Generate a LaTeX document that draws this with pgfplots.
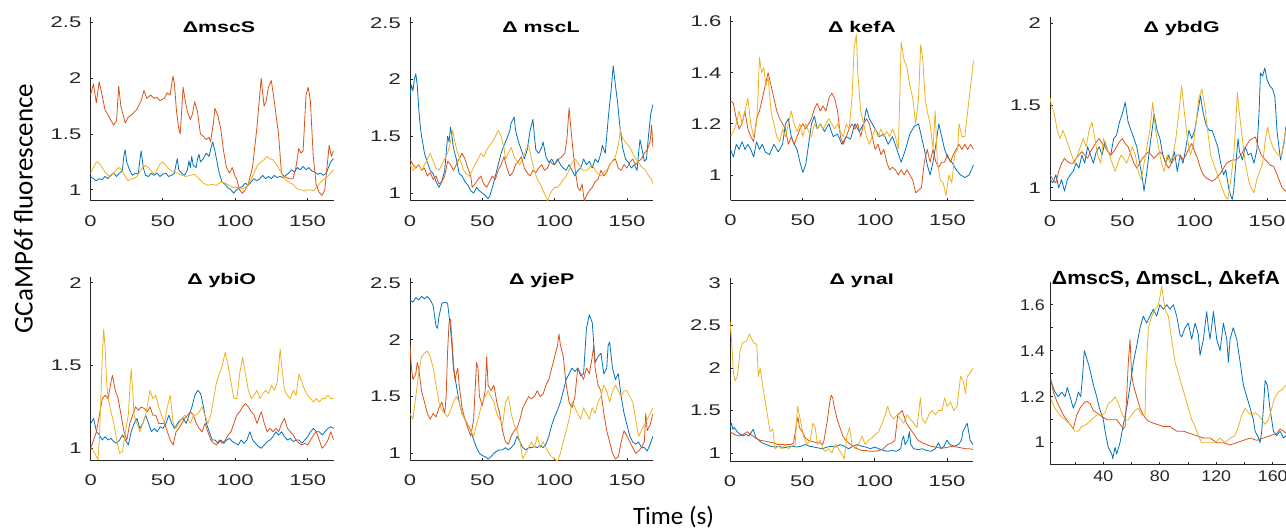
\documentclass[border=0pt]{standalone}
\usepackage{pgfplots}
\pgfplotsset{compat=1.18}
\usepackage{fontspec}
\setmainfont{Liberation Sans}
\newfontfamily\tickfont[FakeStretch=1.42]{Liberation Sans}
\newfontfamily\tickfontB[FakeStretch=1.15]{Liberation Sans}
\newfontfamily\titlefont[FakeStretch=1.38]{Liberation Sans}
\newfontfamily\titlefontB[FakeStretch=1.12]{Liberation Sans}
\newfontfamily\labelfont{Carlito}

\definecolor{mblue}{rgb}{0,0.447,0.741}
\definecolor{morange}{rgb}{0.850,0.325,0.098}
\definecolor{myellow}{rgb}{0.929,0.694,0.125}
\definecolor{axcol}{rgb}{0.15,0.15,0.15}

\pgfplotsset{
  panel/.style={
    scale only axis, width=243pt, height=184pt,
    axis lines=left, axis line style={-, draw=axcol, line width=1pt},
    tick align=inside, major tick length=2.7pt, minor tick length=2.7pt,
    tick style={draw=axcol, line width=0.8pt},
    xmin=0, xmax=168, xtick={0,50,100,150},
    /pgf/number format/assume math mode=true,
    ticklabel style={font=\tickfont\fontsize{15.5}{16}\selectfont, text=axcol, inner sep=0pt},
    xticklabel style={anchor=north, yshift=-14pt},
    yticklabel style={anchor=east, xshift=-9pt},
    every axis plot/.append style={line width=0.8pt, line join=round, mark=none},
  },
  tb/.style={draw=mblue},
  tr/.style={draw=morange},
  ty/.style={draw=myellow},
}

\begin{document}
\begin{tikzpicture}[x=1pt,y=1pt]
\useasboundingbox (0,0) rectangle (1286,531);
\clip (0,0) rectangle (1286,531);

% ---------- mscS ----------
\begin{axis}[panel, at={(90.5pt,330pt)}, anchor=south west,
  ymin=0.9, ymax=2.55, ytick={1,1.5,2,2.5}]
\addplot[tb] coordinates {(0,1.12)(2,1.1)(4,1.08)(6,1.1)(8,1.09)(10,1.12)(12,1.1)(14,1.13)(16,1.15)(18,1.12)(20,1.15)(22,1.17)(23,1.3)(24,1.36)(25,1.25)(27,1.18)(29,1.13)(31,1.15)(33,1.14)(34,1.25)(35,1.35)(36.5,1.2)(38,1.13)(40,1.12)(42,1.15)(44,1.13)(46,1.15)(48,1.12)(50,1.14)(52,1.15)(54,1.12)(56,1.13)(58,1.15)(59,1.22)(60,1.28)(61,1.18)(63,1.15)(65,1.13)(67,1.18)(68,1.26)(69,1.2)(70,1.3)(71,1.22)(73,1.2)(74,1.28)(75,1.32)(76,1.25)(78,1.28)(80,1.33)(82,1.3)(83,1.36)(84.5,1.43)(86,1.35)(87.5,1.25)(89,1.15)(91,1.07)(93,1.05)(95,1.02)(97,1.0)(99,0.97)(101,1.0)(103,1.02)(105,1.03)(107,1.06)(109,1.04)(111,1.07)(113,1.1)(115,1.08)(117,1.1)(119,1.13)(121,1.1)(123,1.12)(125,1.1)(127,1.13)(129,1.11)(131,1.12)(133,1.11)(135,1.13)(137,1.15)(139,1.18)(141,1.16)(143,1.2)(145,1.18)(147,1.21)(149,1.18)(151,1.2)(153,1.17)(155,1.16)(157,1.14)(159,1.15)(161,1.13)(163,1.15)(164.5,1.2)(166,1.25)(168,1.28)};
\addplot[tr] coordinates {(0,1.85)(2,1.95)(4,1.78)(6,1.97)(8,1.85)(10,1.72)(13,1.65)(16,1.58)(18,1.62)(19.5,1.93)(21,1.75)(24,1.6)(26,1.65)(29,1.68)(32,1.72)(35,1.8)(37,1.89)(39,1.82)(41.5,1.85)(44,1.82)(46,1.83)(48,1.8)(51,1.82)(53,1.87)(55,1.85)(57,2.02)(58,1.95)(59.5,1.7)(61,1.55)(62,1.5)(63,1.7)(64,1.92)(65.5,1.8)(67,1.7)(69,1.63)(70.5,1.68)(72,1.79)(74,1.7)(76,1.5)(78,1.48)(80,1.45)(82,1.47)(83,1.43)(85,1.6)(86,1.73)(88,1.67)(90,1.55)(92,1.35)(94,1.2)(96,1.15)(98,1.2)(100,1.12)(101,1.1)(103,1.0)(105,0.97)(107,1.0)(109,1.05)(112,1.2)(115,1.55)(118,2.0)(120,1.75)(121.5,1.8)(123,1.92)(125,1.98)(127,1.8)(128.5,1.65)(130,1.5)(132,1.15)(134,1.12)(137,1.1)(140,1.1)(142,1.2)(144,1.37)(145.5,1.33)(147,1.35)(148,1.6)(149,1.85)(150.5,1.92)(152,1.8)(153,1.55)(154,1.3)(156,1.05)(158,0.98)(160,0.95)(162,1.0)(163.5,1.2)(165,1.4)(166.5,1.3)(168,1.35)};
\addplot[ty] coordinates {(0,1.15)(2,1.2)(4,1.25)(6,1.24)(8,1.2)(10,1.16)(12,1.13)(14,1.12)(16,1.15)(18,1.18)(20,1.2)(22,1.17)(24,1.12)(26,1.08)(28,1.1)(30,1.1)(32,1.12)(34,1.16)(36,1.2)(38,1.22)(40,1.2)(42,1.17)(44,1.14)(46,1.18)(48,1.23)(50,1.25)(52,1.22)(54,1.19)(56,1.17)(58,1.16)(60,1.15)(63,1.13)(66,1.12)(69,1.13)(72,1.14)(75,1.1)(78,1.06)(81,1.04)(84,1.05)(87,1.04)(90,1.07)(93,1.06)(96,1.04)(99,1.02)(102,1.02)(105,1.01)(108,1.03)(110,1.07)(112,1.12)(114,1.18)(116,1.23)(118,1.25)(120,1.27)(122,1.3)(124,1.28)(126,1.27)(128,1.24)(130,1.2)(132,1.15)(134,1.1)(136,1.08)(138,1.06)(140,1.05)(142,1.02)(144,1.0)(146,1.0)(148,0.99)(150,1.0)(152,1.0)(154,0.99)(156,1.02)(158,1.05)(160,1.08)(162,1.1)(164,1.12)(166,1.15)(168,1.18)};
\end{axis}

% ---------- mscL ----------
\begin{axis}[panel, at={(410pt,330pt)}, anchor=south west,
  ymin=0.93, ymax=2.55, ytick={1,1.5,2,2.5}]
\addplot[tb] coordinates {(0,1.85)(1,1.95)(2,1.9)(3,2.0)(4,2.05)(5,1.95)(6,1.75)(7,1.6)(8,1.5)(10,1.35)(12,1.27)(14,1.2)(16,1.17)(18,1.1)(20,1.05)(22,1.1)(24,1.2)(25,1.35)(26,1.5)(27,1.45)(28,1.58)(29,1.5)(30,1.4)(32,1.3)(34,1.17)(36,1.15)(38,1.1)(40,1.07)(42,1.02)(44,1.0)(46,1.05)(48,1.02)(50,1.0)(52,0.98)(54,0.95)(55,0.97)(57,1.05)(59,1.15)(61,1.25)(63,1.35)(65,1.42)(67,1.48)(69,1.55)(70,1.62)(72,1.67)(73,1.55)(75,1.45)(77,1.38)(79,1.3)(81,1.38)(83,1.55)(85,1.65)(86,1.5)(87,1.38)(89,1.35)(91,1.4)(92,1.45)(94,1.32)(96,1.27)(98,1.3)(100,1.25)(102,1.3)(104,1.25)(106,1.22)(108,1.2)(110,1.25)(112,1.2)(114,1.15)(116,1.2)(118,1.22)(120,1.3)(122,1.25)(124,1.28)(126,1.22)(128,1.3)(130,1.27)(132,1.35)(133,1.42)(135,1.35)(136,1.5)(137,1.65)(139,1.9)(140.5,2.12)(142,1.95)(143.5,1.8)(145,1.6)(147,1.4)(149,1.3)(151,1.27)(153,1.22)(155,1.25)(157,1.2)(158,1.35)(159,1.47)(160.5,1.38)(162,1.28)(163.5,1.3)(165,1.52)(166.5,1.7)(168,1.78)};
\addplot[tr] coordinates {(0,1.3)(2,1.25)(4,1.22)(6,1.25)(8,1.2)(10,1.22)(12,1.15)(14,1.18)(16,1.12)(18,1.15)(20,1.08)(22,1.1)(24,1.15)(26,1.28)(28,1.25)(30,1.2)(32,1.25)(34,1.3)(36,1.35)(38,1.3)(40,1.22)(42,1.15)(43,1.05)(45,1.08)(47,1.12)(49,1.15)(51,1.08)(53,1.05)(55,1.1)(57,1.15)(59,1.12)(61,1.2)(63,1.25)(65,1.32)(67,1.22)(69,1.15)(71,1.18)(73,1.25)(75,1.28)(77,1.32)(79,1.22)(81,1.18)(83,1.15)(85,1.2)(87,1.18)(89,1.22)(91,1.25)(93,1.2)(95,1.22)(97,1.28)(99,1.25)(101,1.27)(103,1.3)(105,1.32)(107,1.35)(108.5,1.48)(110,1.75)(111,1.6)(112.5,1.4)(114,1.22)(116,1.05)(117.5,1.02)(119,1.08)(120.5,0.93)(122,0.98)(124,1.02)(126,1.05)(128,1.1)(130,1.12)(132,1.2)(134,1.15)(136,1.18)(138,1.25)(140,1.28)(142,1.3)(144,1.22)(146,1.2)(148,1.25)(150,1.22)(152,1.27)(154,1.3)(156,1.25)(158,1.28)(160,1.3)(162,1.35)(164,1.38)(166,1.45)(167,1.6)(168,1.4)};
\addplot[ty] coordinates {(0,1.25)(2,1.2)(4,1.23)(6,1.25)(8,1.2)(10,1.25)(12,1.3)(14,1.35)(16,1.28)(18,1.22)(20,1.2)(22,1.25)(24,1.3)(26,1.35)(28,1.45)(29.5,1.55)(31,1.45)(33,1.35)(35,1.28)(37,1.2)(39,1.17)(41,1.15)(43,1.2)(45,1.25)(47,1.3)(49,1.35)(51,1.32)(53,1.38)(55,1.42)(57,1.45)(59,1.5)(61,1.55)(63,1.5)(65,1.4)(66,1.3)(68,1.35)(70,1.4)(72,1.32)(74,1.28)(76,1.25)(78,1.3)(80,1.38)(82,1.42)(84,1.3)(86,1.2)(88,1.12)(90,1.08)(92,1.02)(94,0.97)(95,0.93)(96.5,0.98)(98,1.02)(100,1.05)(102,1.05)(104,1.08)(106,1.12)(108,1.15)(110,1.2)(112,1.27)(114,1.3)(116,1.27)(118,1.22)(120,1.2)(122,1.2)(124,1.22)(126,1.25)(128,1.2)(130,1.17)(132,1.15)(134,1.18)(136,1.2)(138,1.25)(140,1.28)(142,1.32)(144,1.42)(145.5,1.56)(147,1.48)(149,1.45)(151,1.42)(153,1.38)(155,1.32)(157,1.28)(159,1.25)(161,1.22)(163,1.2)(165,1.15)(167,1.12)(168,1.08)};
\end{axis}

% ---------- kefA ----------
\begin{axis}[panel, at={(730.5pt,330.5pt)}, anchor=south west,
  ymin=0.9, ymax=1.62, ytick={1,1.2,1.4,1.6}]
\addplot[tb] coordinates {(0,1.1)(2,1.07)(4,1.12)(6,1.1)(8,1.13)(10,1.1)(12,1.12)(14,1.1)(16,1.07)(18,1.13)(20,1.1)(22,1.12)(24,1.09)(27,1.08)(30,1.12)(33,1.09)(36,1.12)(38,1.2)(40,1.22)(42,1.15)(44,1.12)(46,1.1)(48,1.05)(50,1.01)(52,1.04)(54,1.12)(56,1.2)(58,1.23)(60,1.18)(62,1.2)(65,1.17)(68,1.2)(71,1.15)(74,1.16)(77,1.12)(80,1.15)(83,1.14)(86,1.2)(89,1.17)(92,1.2)(94,1.26)(96,1.22)(98,1.2)(100,1.18)(103,1.15)(106,1.16)(109,1.12)(112,1.15)(115,1.1)(118,1.05)(121,1.1)(124,1.16)(127,1.19)(130,1.2)(132,1.15)(134,1.1)(136,1.04)(138,1.0)(140,1.05)(142,1.12)(144,1.2)(146,1.15)(148,1.1)(150,1.07)(153,1.05)(156,1.02)(159,1.0)(162,0.99)(165,1.0)(168,1.04)};
\addplot[tr] coordinates {(0,1.29)(2,1.28)(4,1.22)(6,1.18)(8,1.2)(10,1.25)(12,1.18)(14,1.15)(16,1.13)(18,1.22)(20,1.25)(22,1.3)(24,1.35)(26,1.4)(28,1.35)(30,1.3)(32,1.25)(34,1.22)(36,1.2)(38,1.18)(40,1.12)(42,1.15)(44,1.12)(46,1.15)(48,1.18)(50,1.2)(52,1.18)(54,1.2)(56,1.22)(58,1.26)(60,1.28)(62,1.25)(64,1.27)(66,1.25)(68,1.3)(70,1.32)(72,1.3)(74,1.25)(76,1.15)(78,1.12)(80,1.15)(82,1.18)(84,1.2)(86,1.18)(88,1.2)(90,1.15)(92,1.2)(94,1.22)(96,1.2)(98,1.15)(100,1.1)(102,1.12)(104,1.08)(106,1.1)(108,1.05)(110,1.02)(112,1.03)(114,1.02)(116,1.0)(118,1.02)(120,1.0)(122,1.02)(124,1.0)(126,0.98)(128,0.93)(130,0.94)(132,0.95)(134,1.05)(136,1.1)(138,1.05)(140,1.1)(142,1.05)(144,1.03)(146,1.05)(148,1.05)(150,1.08)(152,1.05)(154,1.08)(156,1.1)(158,1.12)(160,1.1)(162,1.12)(164,1.1)(166,1.12)(168,1.1)};
\addplot[ty] coordinates {(0,1.15)(2,1.17)(4,1.2)(6,1.25)(8,1.2)(10,1.25)(12,1.3)(14,1.2)(16,1.15)(18,1.2)(19,1.3)(20,1.46)(21.5,1.4)(23,1.42)(24.5,1.35)(26,1.38)(28,1.25)(30,1.2)(32,1.15)(34,1.13)(36,1.18)(38,1.15)(40,1.2)(42,1.25)(44,1.2)(46,1.17)(48,1.2)(50,1.15)(52,1.2)(54,1.17)(56,1.15)(58,1.2)(60,1.18)(62,1.2)(64,1.18)(66,1.2)(68,1.22)(70,1.2)(72,1.18)(74,1.2)(76,1.17)(78,1.15)(80,1.2)(82,1.18)(84,1.3)(85.5,1.5)(87,1.55)(88,1.4)(90,1.25)(92,1.2)(94,1.15)(96,1.12)(98,1.15)(100,1.18)(102,1.15)(104,1.18)(106,1.15)(108,1.17)(110,1.15)(112,1.18)(114,1.15)(116,1.1)(117,1.3)(118,1.52)(120,1.45)(122,1.42)(124,1.35)(126,1.3)(128,1.2)(130,1.3)(131.5,1.51)(133,1.45)(134.5,1.3)(136,1.25)(138,1.2)(140,1.1)(141.5,1.25)(143,1.05)(145,0.98)(147,0.97)(149,0.92)(151,1.0)(153,0.97)(155,1.08)(157,1.1)(158,1.2)(160,1.15)(162,1.15)(164,1.25)(166,1.35)(168,1.45)};
\end{axis}

% ---------- ybdG ----------
\begin{axis}[panel, at={(1050pt,330pt)}, anchor=south west,
  ymin=0.92, ymax=2.04, ytick={1,1.5,2}]
\addplot[tb] coordinates {(0,1.05)(2,1.03)(4,1.08)(6,1.0)(8,1.05)(10,0.98)(12,1.05)(14,1.08)(16,1.1)(18,1.15)(20,1.12)(22,1.2)(24,1.15)(26,1.25)(28,1.2)(30,1.15)(32,1.22)(34,1.25)(36,1.2)(38,1.28)(40,1.22)(42,1.2)(44,1.3)(46,1.32)(48,1.4)(50,1.45)(52,1.52)(54,1.4)(56,1.35)(58,1.3)(60,1.25)(62,1.15)(64,1.05)(65,0.98)(67,1.1)(69,1.25)(71,1.38)(72,1.45)(74,1.35)(76,1.3)(78,1.2)(80,1.15)(82,1.2)(84,1.15)(86,1.22)(88,1.1)(90,1.2)(92,1.15)(94,1.25)(96,1.35)(98,1.3)(100,1.35)(102,1.45)(104,1.56)(106,1.45)(108,1.38)(110,1.35)(112,1.35)(114,1.3)(116,1.25)(118,1.15)(120,1.08)(121.5,1.11)(123.5,1.0)(125,0.95)(126,0.93)(127,0.98)(128,1.1)(130,1.3)(131,1.22)(133,1.17)(135,1.25)(137,1.2)(139,1.21)(141,1.15)(143,1.23)(144.5,1.45)(145.5,1.7)(147,1.68)(148.5,1.73)(150,1.66)(152,1.62)(154,1.6)(155.5,1.55)(157,1.34)(159.4,1.17)(161.8,1.27)(163,1.37)(166,1.4)(168,1.45)};
\addplot[tr] coordinates {(0,1.08)(2,1.05)(4,1.03)(6,1.1)(8,1.15)(10,1.18)(12,1.16)(14,1.15)(16,1.15)(18,1.18)(20,1.2)(22,1.22)(24,1.2)(26,1.18)(28,1.22)(30,1.25)(32,1.28)(34,1.3)(36,1.27)(38,1.25)(40,1.22)(42,1.2)(44,1.22)(46,1.25)(48,1.28)(50,1.3)(52,1.27)(54,1.25)(56,1.2)(58,1.15)(60,1.12)(62,1.15)(64,1.18)(66,1.2)(68,1.22)(70,1.2)(72,1.18)(74,1.2)(76,1.22)(78,1.2)(80,1.15)(82,1.12)(84,1.15)(86,1.18)(88,1.2)(90,1.2)(92,1.17)(94,1.2)(96,1.24)(98,1.27)(100,1.22)(102,1.18)(104,1.12)(106,1.08)(108,1.06)(110,1.05)(112,1.04)(114,1.05)(116,1.07)(118,1.09)(120,1.12)(122,1.15)(124,1.16)(126,1.17)(128,1.17)(130,1.18)(132,1.2)(134,1.23)(136,1.26)(138,1.29)(140,1.3)(142,1.31)(144,1.25)(146,1.2)(148,1.18)(150,1.16)(152,1.14)(154.6,1.13)(157,1.08)(160.5,1.0)(163,0.98)(166,0.96)(168,0.95)};
\addplot[ty] coordinates {(0,1.55)(1,1.5)(3,1.45)(5,1.35)(7,1.3)(9,1.35)(11,1.3)(13,1.25)(15,1.2)(17,1.15)(19,1.2)(21,1.25)(23,1.3)(25,1.25)(27,1.35)(29,1.4)(31,1.3)(33,1.2)(35,1.15)(37,1.3)(39,1.25)(41,1.2)(43,1.15)(45,1.1)(47,1.15)(49,1.2)(51,1.18)(53,1.15)(55,1.2)(57,1.25)(59,1.2)(61,1.1)(63,1.05)(65,1.15)(67,1.25)(69,1.35)(71,1.52)(73,1.35)(75,1.25)(77,1.15)(79,1.1)(81,1.2)(83,1.15)(85,1.2)(87,1.3)(89,1.45)(91,1.62)(93,1.45)(95,1.3)(97,1.2)(99,1.25)(101,1.4)(103,1.55)(105,1.6)(107,1.5)(109,1.35)(111,1.2)(113,1.15)(115,1.1)(117,1.05)(119,1.0)(121,0.95)(123,0.93)(125,1.05)(127,1.2)(128.5,1.4)(129.5,1.58)(131,1.45)(133,1.3)(135,1.15)(137.5,1.04)(139,1.0)(141,0.97)(143,1.05)(145,1.1)(147,1.15)(149,1.3)(150.5,1.37)(152,1.3)(154,1.25)(156,1.22)(158,1.2)(160,1.19)(162,1.3)(163.5,1.37)(166,1.35)(168,1.3)};
\end{axis}

% ---------- ybiO ----------
\begin{axis}[panel, at={(90.7pt,70.3pt)}, anchor=south west,
  ymin=0.925, ymax=2.036, ytick={1,1.5,2}]
\addplot[tb] coordinates {(0,1.15)(2,1.18)(4,1.1)(6,1.08)(8,1.05)(10,1.07)(12,1.05)(14,1.06)(16,1.04)(18,1.03)(20,1.05)(22,1.08)(24,1.05)(26,1.02)(28,1.1)(30,1.15)(32,1.18)(34,1.12)(36,1.15)(38,1.2)(40,1.15)(42,1.1)(44,1.12)(46,1.1)(48,1.13)(50,1.12)(52,1.15)(54,1.2)(56,1.15)(58,1.12)(60,1.15)(62,1.17)(64,1.18)(66,1.15)(68,1.2)(70,1.25)(72,1.32)(74,1.35)(76,1.33)(78,1.25)(80,1.15)(82,1.1)(84,1.05)(86,1.05)(88,1.03)(90,1.05)(92,1.03)(94,1.05)(96,1.06)(98,1.04)(100,1.03)(102,1.02)(104,1.05)(106,1.03)(108,1.05)(110,1.1)(112,1.05)(114,1.03)(116,1.01)(118,1.0)(120,1.02)(122,1.04)(124,1.05)(126,1.07)(128,1.1)(130,1.08)(132,1.1)(134,1.07)(136,1.05)(138,1.06)(140,1.04)(142,1.05)(144,1.05)(146,1.03)(148,1.05)(150,1.07)(152,1.1)(154,1.12)(156,1.1)(158,1.1)(160,1.08)(162,1.1)(164,1.12)(166,1.13)(168,1.12)};
\addplot[tr] coordinates {(0,1.0)(2,1.05)(4,1.1)(6,1.2)(8,1.3)(10,1.32)(12,1.3)(14,1.4)(15,1.44)(17,1.35)(19,1.3)(21,1.2)(23,1.1)(25,1.05)(27,1.15)(29,1.2)(31,1.25)(33,1.23)(35,1.25)(37,1.24)(39,1.22)(41,1.25)(43,1.2)(45,1.2)(47,1.15)(49,1.15)(51,1.15)(53,1.1)(55,1.05)(57,1.02)(59,1.1)(61,1.12)(63,1.15)(65,1.18)(67,1.2)(69,1.22)(71,1.2)(73,1.15)(75,1.12)(77,1.1)(79,1.15)(81,1.1)(83,1.05)(85,1.03)(87,1.02)(89,1.05)(91,1.03)(93,1.05)(95,1.08)(97,1.1)(99,1.15)(101,1.2)(103,1.22)(105,1.25)(107,1.27)(109,1.25)(111,1.22)(113,1.2)(115,1.15)(117,1.2)(118,1.22)(120,1.15)(122,1.1)(124,1.12)(126,1.1)(128,1.12)(130,1.1)(132,1.15)(134,1.18)(136,1.12)(138,1.1)(140,1.08)(142,1.05)(144,1.03)(146,1.02)(148,1.03)(150,1.02)(152,1.05)(154,1.08)(156,1.1)(158,1.05)(160,1.0)(162,1.02)(164,1.05)(166,1.1)(168,1.05)};
\addplot[ty] coordinates {(0,1.0)(2,0.98)(4,0.95)(5,0.93)(6,1.05)(7,1.3)(8,1.55)(9,1.72)(10,1.6)(11,1.4)(12,1.3)(14,1.22)(16,1.15)(18,1.05)(20,0.97)(22,0.98)(24,1.1)(26,1.2)(27,1.35)(28,1.48)(29,1.35)(30,1.2)(32,1.15)(34,1.1)(36,1.15)(38,1.2)(40,1.3)(41,1.35)(43,1.3)(45,1.32)(47,1.25)(49,1.2)(51,1.15)(53,1.25)(55,1.32)(57,1.15)(59,1.12)(61,1.15)(63,1.18)(65,1.2)(67,1.18)(69,1.15)(71,1.2)(73,1.2)(75,1.22)(77,1.25)(79,1.2)(81,1.15)(83,1.2)(85,1.3)(87,1.4)(89,1.45)(91,1.5)(93,1.58)(95,1.5)(97,1.4)(99,1.3)(101,1.3)(103,1.45)(105,1.55)(107,1.45)(109,1.35)(111,1.3)(113,1.32)(115,1.35)(117,1.3)(119,1.33)(121,1.35)(123,1.33)(125,1.38)(127,1.35)(129,1.4)(131,1.6)(132,1.5)(134,1.35)(136,1.32)(138,1.3)(140,1.35)(142,1.32)(144,1.45)(146,1.4)(148,1.35)(150,1.32)(152,1.3)(154,1.28)(156,1.3)(158,1.28)(160,1.3)(162,1.3)(164,1.32)(166,1.3)(168,1.3)};
\end{axis}

% ---------- yjeP ----------
\begin{axis}[panel, at={(410pt,70.3pt)}, anchor=south west, height=182.4pt,
  ymin=0.935, ymax=2.54, ytick={1,1.5,2,2.5}]
\addplot[tb] coordinates {(0,2.35)(2,2.33)(4,2.37)(6,2.35)(8,2.38)(10,2.36)(12,2.38)(14,2.35)(16,2.3)(18,2.12)(19,2.1)(20,2.2)(22,2.32)(24,2.33)(26,2.32)(28,2.1)(29,1.95)(30,1.75)(32,1.6)(34,1.45)(36,1.35)(38,1.3)(40,1.25)(42,1.2)(44,1.12)(46,1.05)(48,1.0)(50,0.98)(52,0.97)(54,0.95)(56,0.97)(58,1.0)(60,1.02)(62,1.03)(64,1.03)(66,1.05)(68,1.03)(70,1.05)(72,1.08)(74,1.15)(76,1.1)(78,1.05)(80,1.03)(82,1.05)(84,1.05)(86,1.06)(88,1.05)(90,1.07)(92,1.05)(94,1.08)(96,1.15)(98,1.25)(100,1.32)(102,1.38)(104,1.45)(106,1.55)(108,1.65)(110,1.7)(112,1.75)(114,1.72)(116,1.75)(118,1.68)(120,1.7)(122,2.1)(124,2.22)(126,2.15)(128,1.8)(130,1.85)(132,1.88)(134,1.7)(136,1.75)(137,1.95)(138,1.98)(140,1.75)(142,1.65)(144,1.7)(146,1.5)(148,1.35)(150,1.25)(152,1.15)(154,1.1)(156,1.08)(158,1.1)(160,1.05)(162,1.05)(164,1.02)(166,1.08)(168,1.15)};
\addplot[tr] coordinates {(0,1.95)(1,1.75)(2,1.65)(4,1.7)(5,1.8)(6,1.75)(8,1.55)(10,1.45)(12,1.35)(14,1.3)(16,1.35)(18,1.32)(20,1.4)(22,1.45)(24,1.35)(25,1.5)(26,1.9)(27,2.15)(28,2.18)(29,2.0)(30,1.8)(31,1.65)(32,1.7)(33,1.75)(34,1.6)(36,1.4)(38,1.3)(40,1.22)(42,1.15)(44,1.3)(45,1.55)(46,1.8)(47,1.75)(48,1.5)(50,1.42)(52,1.55)(53,1.85)(54,1.6)(56,1.55)(58,1.6)(60,1.45)(62,1.35)(64,1.2)(66,1.1)(68,1.08)(70,1.15)(72,1.2)(74,1.22)(76,1.3)(78,1.4)(80,1.45)(82,1.5)(84,1.48)(86,1.5)(88,1.55)(90,1.5)(92,1.52)(94,1.6)(96,1.65)(98,1.75)(100,1.85)(102,1.95)(103,2.05)(104,1.95)(106,1.85)(108,1.6)(110,1.45)(112,1.4)(114,1.5)(116,1.75)(118,1.7)(120,1.65)(122,1.75)(124,1.7)(126,1.85)(127,1.95)(128,1.75)(130,1.6)(132,1.55)(134,1.35)(136,1.2)(138,1.1)(140,1.0)(142,0.95)(144,0.97)(146,1.1)(148,1.2)(150,1.15)(152,1.1)(154,1.05)(156,1.0)(158,1.02)(160,1.05)(162,1.1)(163,1.35)(164,1.2)(166,1.25)(168,1.35)};
\addplot[ty] coordinates {(0,1.35)(2,1.3)(4,1.5)(6,1.7)(8,1.85)(10,1.88)(12,1.9)(14,1.85)(16,1.75)(18,1.6)(20,1.45)(22,1.38)(24,1.35)(26,1.32)(28,1.38)(30,1.45)(32,1.5)(34,1.45)(36,1.35)(38,1.3)(40,1.25)(42,1.2)(44,1.15)(46,1.25)(48,1.35)(50,1.45)(52,1.5)(54,1.55)(56,1.5)(58,1.45)(60,1.35)(62,1.3)(64,1.25)(66,1.45)(68,1.5)(70,1.35)(72,1.25)(74,1.2)(76,1.1)(78,0.95)(80,1.0)(82,1.05)(84,1.1)(86,1.05)(88,1.15)(90,1.05)(92,1.1)(94,1.05)(96,1.0)(98,0.97)(100,0.95)(102,0.93)(104,1.0)(106,1.1)(108,1.2)(110,1.3)(112,1.45)(114,1.4)(116,1.35)(118,1.3)(120,1.4)(122,1.35)(124,1.3)(126,1.4)(128,1.35)(130,1.45)(132,1.5)(134,1.6)(136,1.55)(138,1.45)(140,1.55)(142,1.6)(144,1.55)(146,1.5)(148,1.55)(150,1.55)(152,1.5)(154,1.45)(156,1.3)(158,1.15)(160,1.2)(162,1.25)(164,1.3)(166,1.35)(168,1.4)};
\end{axis}

% ---------- ynaI ----------
\begin{axis}[panel, at={(730pt,70pt)}, anchor=south west, height=183pt,
  ymin=0.906, ymax=3.06, ytick={1,1.5,2,2.5,3}]
\addplot[tb] coordinates {(0,1.3)(1,1.35)(2,1.28)(3,1.3)(5,1.25)(7,1.22)(9,1.2)(11,1.22)(13,1.2)(15,1.25)(16,1.28)(18,1.18)(20,1.15)(22,1.12)(25,1.1)(28,1.08)(31,1.07)(34,1.08)(37,1.06)(40,1.07)(43,1.08)(46,1.07)(49,1.08)(52,1.1)(55,1.08)(58,1.07)(61,1.06)(64,1.05)(67,1.07)(70,1.08)(73,1.07)(76,1.1)(79,1.08)(82,1.05)(85,1.08)(88,1.1)(91,1.08)(94,1.07)(97,1.05)(100,1.07)(103,1.05)(106,1.03)(109,1.02)(112,1.03)(115,1.02)(118,1.05)(119,1.15)(120,1.2)(121,1.1)(123,1.15)(124,1.25)(125,1.1)(127,1.05)(130,1.04)(133,1.05)(136,1.03)(139,1.02)(142,1.05)(144,1.12)(146,1.05)(148,1.08)(150,1.15)(152,1.1)(155,1.08)(158,1.1)(160,1.15)(161,1.25)(163,1.32)(164,1.35)(165,1.25)(166,1.15)(168,1.1)};
\addplot[tr] coordinates {(0,1.25)(3,1.22)(6,1.2)(9,1.22)(12,1.25)(14,1.22)(16,1.2)(18,1.17)(21,1.15)(24,1.14)(27,1.13)(30,1.12)(33,1.1)(36,1.1)(39,1.1)(42,1.1)(44,1.12)(46,1.35)(47,1.42)(48,1.3)(50,1.25)(52,1.18)(54,1.15)(56,1.14)(58,1.13)(60,1.12)(62,1.12)(64,1.1)(65,1.15)(67,1.35)(69,1.6)(70,1.68)(71,1.65)(72,1.55)(74,1.4)(76,1.3)(78,1.2)(80,1.15)(82,1.12)(85,1.08)(88,1.05)(91,1.03)(94,1.03)(97,1.02)(100,1.02)(103,1.03)(106,1.05)(109,1.1)(112,1.12)(114,1.15)(115,1.3)(116,1.45)(118,1.48)(119,1.5)(120,1.45)(122,1.35)(124,1.3)(126,1.25)(128,1.2)(130,1.15)(133,1.12)(136,1.1)(139,1.08)(142,1.07)(145,1.06)(148,1.06)(151,1.07)(154,1.08)(157,1.07)(160,1.06)(163,1.05)(166,1.05)(168,1.04)};
\addplot[ty] coordinates {(0,2.55)(1.2,2.3)(2.3,1.95)(3.5,1.85)(5,1.9)(5.8,2.0)(6.9,2.2)(8.8,2.3)(11.5,2.32)(13.4,2.4)(16.2,2.3)(18.5,2.28)(19.6,1.9)(20.8,2.0)(23,1.75)(25.4,1.5)(27.7,1.25)(29.6,1.28)(31.2,1.05)(33.5,1.08)(35.8,1.05)(38.1,1.1)(40.4,1.05)(42.7,1.08)(45,1.1)(46.7,1.55)(48.5,1.4)(50.8,1.2)(53.1,1.1)(55.4,1.15)(57.3,1.35)(58.9,1.3)(60.5,1.1)(62.4,1.15)(64.2,1.05)(65.8,1.02)(68.1,1.05)(70.4,1.0)(72.7,1.1)(75.1,1.05)(77.4,0.98)(79,0.93)(80.8,1.2)(82.7,1.3)(84.3,1.1)(86.6,1.05)(88.9,1.1)(91.2,1.2)(93.5,1.1)(95.8,1.15)(98.2,1.18)(100.5,1.22)(102.8,1.25)(105.1,1.35)(107.4,1.45)(109,1.55)(110.9,1.45)(113.2,1.4)(115.5,1.45)(117.8,1.4)(120.1,1.35)(122.4,1.45)(124.7,1.4)(127,1.35)(129.3,1.3)(131.6,1.65)(132.8,1.4)(135.1,1.35)(137.4,1.45)(139.7,1.5)(142,1.45)(144.3,1.5)(146.7,1.5)(148.3,1.65)(150.1,1.55)(152.4,1.6)(154.7,1.5)(157,1.55)(159.4,1.9)(161.2,1.85)(162.8,1.7)(164,1.9)(166.3,1.95)(168,2.0)};
\end{axis}

% ---------- triple mutant ----------
\begin{axis}[panel, at={(1050.7pt,66.5pt)}, anchor=south west, width=243.2pt, height=182.8pt,
  xmin=2.7, xmax=175, xtick={40,80,120,160}, minor xtick={20,60,100,140},
  ymin=0.905, ymax=1.70, ytick={1,1.2,1.4,1.6}, minor ytick={1.1,1.3,1.5},
  ticklabel style={font=\tickfontB\fontsize{15.5}{16}\selectfont},
  xticklabel style={yshift=8.5pt}, yticklabel style={xshift=3.3pt}]
\addplot[tb] coordinates {(2.7,1.27)(5.7,1.22)(8,1.2)(10.5,1.22)(12.8,1.2)(14.5,1.24)(16.4,1.2)(18.7,1.15)(20.6,1.18)(22.3,1.22)(24,1.2)(25.4,1.3)(26.5,1.4)(28,1.37)(30,1.33)(33,1.25)(35.3,1.2)(37.2,1.15)(40,1.1)(41.2,1.05)(43.5,0.98)(46,0.95)(46.6,0.93)(48.3,0.98)(49.4,0.95)(51.8,1.0)(54.2,1.08)(56.5,1.15)(59,1.25)(61.3,1.35)(63.6,1.42)(66,1.5)(68.3,1.55)(70.7,1.52)(73,1.55)(75.4,1.58)(77.8,1.55)(80,1.6)(82.5,1.58)(84.9,1.6)(87.2,1.58)(89.6,1.6)(92,1.55)(94.3,1.47)(95.5,1.46)(97.9,1.5)(100.2,1.52)(102.6,1.45)(105,1.52)(107.3,1.47)(108.5,1.38)(110.9,1.45)(113.2,1.57)(114.4,1.5)(115.6,1.45)(118,1.57)(120.3,1.45)(122.7,1.4)(125,1.52)(127.4,1.45)(128.6,1.35)(129.8,1.45)(132,1.5)(134.5,1.45)(136.9,1.35)(139.2,1.25)(141.6,1.2)(144,1.15)(146.3,1.1)(147.5,1.05)(150,1.02)(151,1.0)(152.2,1.05)(153.4,1.15)(154.6,1.27)(156.2,1.25)(158,1.15)(160.5,1.05)(162.8,1.03)(165.2,1.05)(167.6,1.02)(169.5,1.03)(172,1.02)(175,1.03)};
\addplot[tr] coordinates {(2.7,1.28)(4.6,1.22)(7,1.18)(9.3,1.15)(11.7,1.12)(14,1.1)(16.4,1.08)(18.7,1.06)(21.1,1.12)(23.5,1.15)(25.8,1.17)(28.2,1.18)(30.6,1.17)(32.9,1.14)(35.3,1.13)(37.6,1.12)(40,1.11)(42.4,1.1)(44.7,1.1)(47.1,1.1)(49.4,1.1)(51.8,1.08)(54.2,1.06)(55.4,1.07)(56.5,1.2)(57.7,1.35)(58.9,1.45)(60,1.3)(61.3,1.25)(63.6,1.2)(66,1.15)(68.3,1.12)(70.7,1.1)(73,1.09)(77.8,1.08)(82.5,1.07)(87.2,1.07)(92,1.05)(96.7,1.05)(101.4,1.04)(106,1.03)(110.9,1.02)(115.6,1.02)(120.3,1.0)(125,1.0)(129.8,0.99)(134.5,1.0)(139.2,1.01)(144,1.02)(148.7,1.01)(153.4,1.02)(158.1,1.03)(162.8,1.04)(165.2,1.06)(167.6,1.05)(169.5,1.04)(172,1.04)(175,1.03)};
\addplot[ty] coordinates {(2.7,1.19)(5.7,1.15)(9.3,1.12)(12.8,1.1)(16.4,1.08)(19.9,1.05)(22.3,1.05)(24.6,1.07)(28.2,1.08)(31.7,1.1)(35.3,1.12)(38.8,1.12)(41.2,1.13)(43.5,1.17)(45.9,1.18)(48.3,1.2)(50.6,1.17)(53,1.13)(55.4,1.1)(57.7,1.1)(60,1.12)(62.4,1.14)(64.8,1.15)(67.2,1.12)(69.5,1.12)(70.2,1.3)(71.9,1.5)(74.3,1.55)(76.6,1.58)(79,1.6)(80.6,1.65)(81.3,1.68)(82.5,1.63)(83.7,1.58)(86,1.55)(88.4,1.45)(90.8,1.35)(93.2,1.3)(95.5,1.25)(97.9,1.2)(100.2,1.15)(102.6,1.1)(105,1.07)(107.3,1.03)(109.7,1.0)(112,1.0)(115.6,1.0)(119.1,1.0)(122.7,1.02)(126.2,1.0)(129.8,1.02)(133.3,1.03)(135.7,1.07)(138,1.12)(140.4,1.15)(142.8,1.13)(145.1,1.12)(147.5,1.13)(149.9,1.12)(152.2,1.1)(154.6,1.08)(157,1.1)(159.3,1.15)(161.7,1.2)(164,1.22)(166.4,1.23)(169.5,1.25)(172,1.26)(175,1.27)};
\end{axis}

% ---------- panel titles ----------
\begin{scope}[every node/.style={anchor=base, inner sep=0pt}]
\node at (219,498) {\titlefont\bfseries\fontsize{15.5}{16}\selectfont ΔmscS};
\node at (541,498) {\titlefont\bfseries\fontsize{15.5}{16}\selectfont Δ mscL};
\node at (862,498) {\titlefont\bfseries\fontsize{15.5}{16}\selectfont Δ kefA};
\node at (1181.7,498) {\titlefont\bfseries\fontsize{15.5}{16}\selectfont Δ ybdG};
\node at (221.7,247) {\titlefont\bfseries\fontsize{15.5}{16}\selectfont Δ ybiO};
\node at (541.7,247) {\titlefont\bfseries\fontsize{15.5}{16}\selectfont Δ yjeP};
\node at (861.7,247) {\titlefont\bfseries\fontsize{15.5}{16}\selectfont Δ ynaI};
\node at (1166,247) {\titlefontB\bfseries\fontsize{19}{20}\selectfont ΔmscS, ΔmscL, ΔkefA};
% ---------- shared axis labels ----------
\node[rotate=90] at (32.5,322.5) {\labelfont\fontsize{27}{28}\selectfont GCaMP6f fluorescence};
\node at (673.5,7) {\labelfont\fontsize{25}{26}\selectfont Time (s)};
\end{scope}
\end{tikzpicture}
\end{document}
